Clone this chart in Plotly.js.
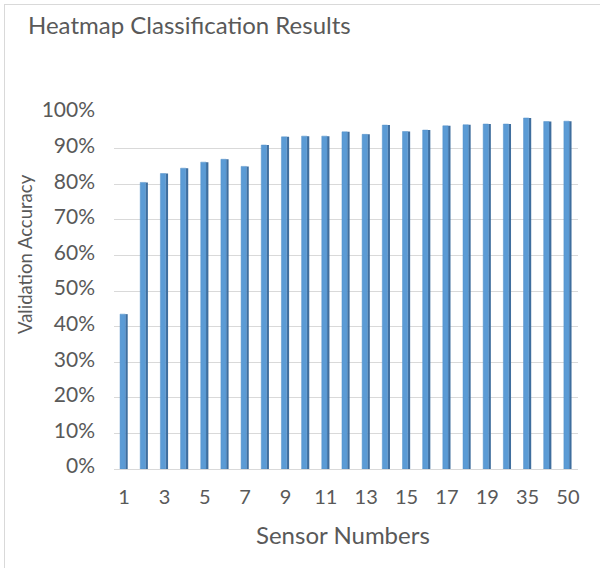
<!DOCTYPE html>
<html>
<head>
<meta charset="utf-8">
<script src="https://cdn.plot.ly/plotly-3.0.1.min.js"></script>
<style>
  html, body { margin: 0; padding: 0; background: #fff; }
  #wrap { position: relative; width: 600px; height: 568px; }
  #chart { width: 600px; height: 568px; }
  #bl { position: absolute; left: 4px; top: 4px; width: 596px; height: 564px;
        border-left: 1px solid #D9D9D9; border-top: 1px solid #D9D9D9; pointer-events: none; }
</style>
</head>
<body>
<div id="wrap"><div id="chart"></div><div id="bl"></div></div>
<script>
const sensorNumbers = ['1','2','3','4','5','6','7','8','9','10','11','12','13','14','15','16','17','18','19','20','35','45','50'];
const accuracy = [43.5, 80.5, 83.0, 84.5, 86.2, 87.0, 85.0, 91.0, 93.3, 93.5, 93.5, 94.7, 94.0, 96.6, 94.8, 95.2, 96.4, 96.7, 96.9, 96.9, 98.6, 97.6, 97.7];
const shownTicks = ['1','3','5','7','9','11','13','15','17','19','35','50'];
const yTicks = [0,10,20,30,40,50,60,70,80,90,100];
const yTickText = yTicks.map(v => v + '%');

const fontFam = 'Lato, "Open Sans", sans-serif';
const grey = '#595959';

const W = 600, H = 568;
const M = { l: 114, r: 22, t: 113, b: 99 };
const PW = W - M.l - M.r, PH = H - M.t - M.b;

const data = [{
  // side face (3-D look)
  type: 'bar',
  x: sensorNumbers,
  y: accuracy,
  width: 0.12, offset: 0.06,
  marker: { color: '#3F6E9E', line: { width: 0 } },
  hoverinfo: 'skip'
}, {
  // front face
  type: 'bar',
  x: sensorNumbers,
  y: accuracy,
  width: 0.26, offset: -0.2,
  marker: { color: '#5B9BD5', line: { color: '#5590C8', width: 0.5 } },
  hoverinfo: 'x+y'
}];

const layout = {
  width: W, height: H,
  margin: M,
  barmode: 'overlay',
  paper_bgcolor: '#fff', plot_bgcolor: '#fff',
  showlegend: false,
  font: { family: fontFam, color: grey, size: 20 },
  title: { text: 'Heatmap Classification Results', x: 28 / W, xref: 'container', xanchor: 'left',
           y: 1 - 26 / H, yref: 'container', yanchor: 'middle',
           font: { size: 24, color: grey, family: fontFam } },
  xaxis: {
    type: 'category', categoryorder: 'array', categoryarray: sensorNumbers,
    tickmode: 'array', tickvals: shownTicks, ticktext: shownTicks,
    showgrid: false, showline: true, linecolor: '#D9D9D9', linewidth: 1,
    ticks: '', tickfont: { size: 20, color: grey }, ticklabelstandoff: 10,
    title: { text: '' }
  },
  yaxis: {
    range: [0, 100], tickmode: 'array', tickvals: yTicks, ticktext: yTickText,
    showgrid: true, gridcolor: '#D9D9D9', gridwidth: 1, zeroline: false,
    showline: false, ticks: '', tickfont: { size: 21, color: grey },
    ticklabelstandoff: 18, ticklabelshift: -3,
    title: { text: '' }
  },
  annotations: [{
    text: 'Validation Accuracy', xref: 'paper', yref: 'paper',
    x: (25 - M.l) / PW, y: (H - M.b - 254) / PH,
    xanchor: 'center', yanchor: 'middle', textangle: -90, showarrow: false,
    font: { size: 18.5, color: grey, family: fontFam }
  }, {
    text: 'Sensor Numbers', xref: 'paper', yref: 'paper',
    x: (343 - M.l) / PW, y: (H - M.b - 534) / PH,
    xanchor: 'center', yanchor: 'middle', showarrow: false,
    font: { size: 24, color: grey, family: fontFam }
  }]
};

Plotly.newPlot('chart', data, layout, { displayModeBar: false, staticPlot: true });
</script>
</body>
</html>
